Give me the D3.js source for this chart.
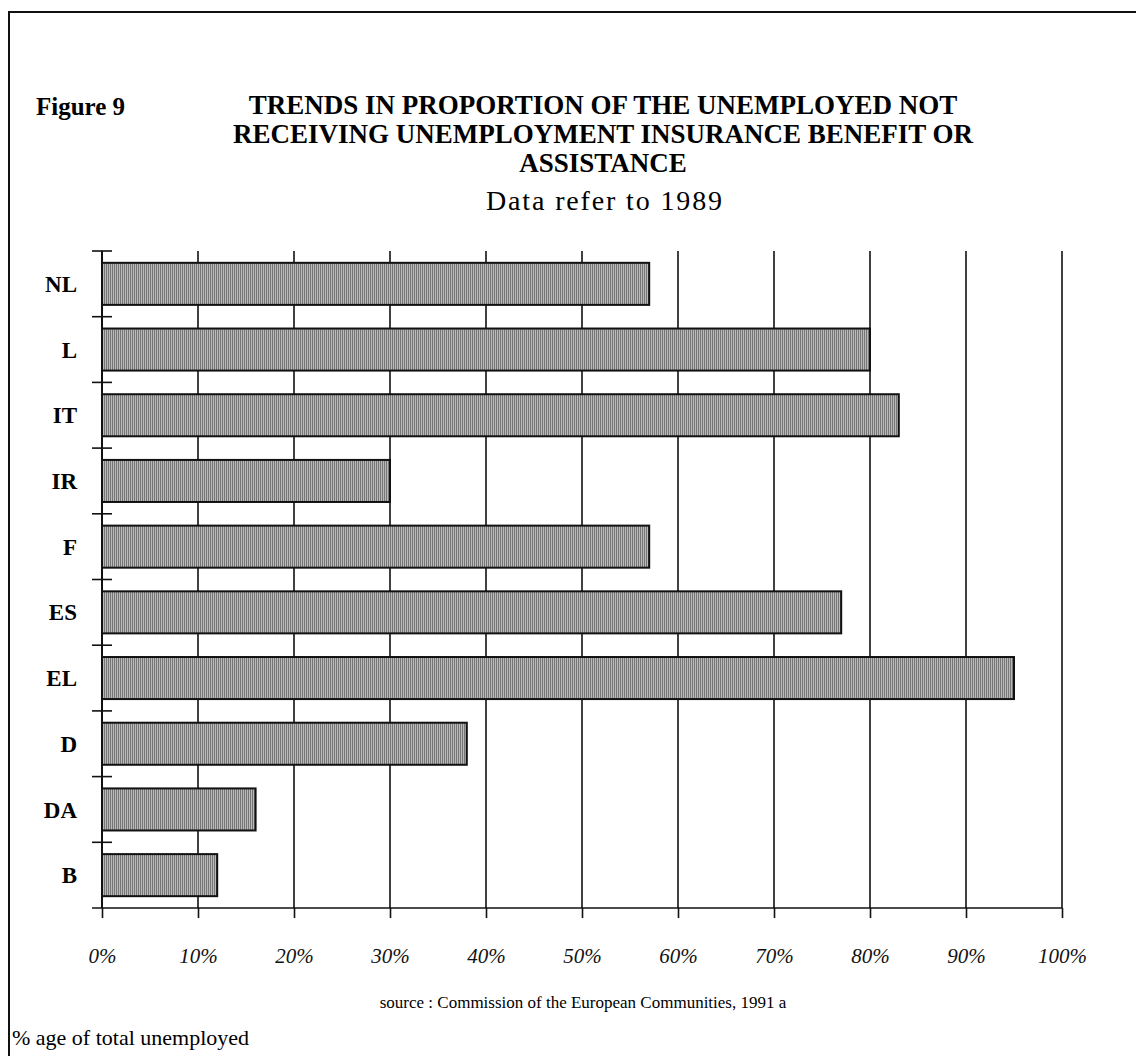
<!DOCTYPE html>
<html>
<head>
<meta charset="utf-8">
<title>Figure 9</title>
<script src="https://d3js.org/d3.v7.min.js"></script>
<style>
  body { margin: 0; background: #fff; }
  svg { display: block; font-family: "Liberation Serif", "Times New Roman", serif; }
</style>
</head>
<body>
<div class="chart1"></div>
<script>
// Data (data refer to 1989)
const countries = ['NL', 'L', 'IT', 'IR', 'F', 'ES', 'EL', 'D', 'DA', 'B'];
const shareNotReceiving = [57, 80, 83, 30, 57, 77, 95, 38, 16, 12];
const xTicks = [0, 10, 20, 30, 40, 50, 60, 70, 80, 90, 100];

const titleLines = [
    'TRENDS IN PROPORTION OF THE UNEMPLOYED NOT',
    'RECEIVING UNEMPLOYMENT INSURANCE BENEFIT OR',
    'ASSISTANCE'
];

function createChart(chartClass) {
    const width = 1136;
    const height = 1056;
    const margin = { top: 251, right: 74, bottom: 148, left: 102 };

    const data = countries.map((c, i) => ({ country: c, value: shareNotReceiving[i] }));

    const svg = d3.select(chartClass)
        .append('svg')
        .attr('width', width)
        .attr('height', height);

    // hatched grey fill like the printed bars
    const pat = svg.append('defs').append('pattern')
        .attr('id', 'barFill')
        .attr('patternUnits', 'userSpaceOnUse')
        .attr('width', 2)
        .attr('height', 2);
    pat.append('rect').attr('width', 2).attr('height', 2).attr('fill', '#bababa');
    pat.append('rect').attr('width', 1).attr('height', 2).attr('fill', '#767676');

    // page frame (top and left edges)
    svg.append('path')
        .attr('d', `M9,1056 V12 H${width}`)
        .attr('fill', 'none')
        .attr('stroke', '#111')
        .attr('stroke-width', 2);

    // titles
    svg.append('text')
        .attr('x', 36)
        .attr('y', 115)
        .attr('font-size', 25)
        .attr('font-weight', 'bold')
        .text('Figure 9');

    svg.selectAll('.title')
        .data(titleLines)
        .enter().append('text')
        .attr('class', 'title')
        .attr('x', 603)
        .attr('y', (d, i) => 114 + i * 29)
        .attr('text-anchor', 'middle')
        .attr('font-size', 27)
        .attr('font-weight', 'bold')
        .text(d => d);

    svg.append('text')
        .attr('x', 604)
        .attr('y', 210)
        .attr('text-anchor', 'middle')
        .attr('font-size', 28)
        .attr('textLength', 236)
        .attr('lengthAdjust', 'spacing')
        .text('Data refer to 1989');

    const innerW = width - margin.left - margin.right;
    const innerH = height - margin.top - margin.bottom;

    const g = svg.append('g')
        .attr('transform', 'translate(' + margin.left + ',' + margin.top + ')');

    const x = d3.scaleLinear()
        .domain([0, 100])
        .range([0, innerW]);

    const y = d3.scaleBand()
        .domain(countries)
        .range([0, innerH])
        .paddingInner(0.36)
        .paddingOuter(0.18);

    const step = innerH / countries.length;

    // vertical gridlines
    g.selectAll('.grid')
        .data(xTicks.slice(1))
        .enter().append('line')
        .attr('class', 'grid')
        .attr('x1', d => x(d))
        .attr('x2', d => x(d))
        .attr('y1', 0)
        .attr('y2', innerH)
        .attr('stroke', '#111')
        .attr('stroke-width', 1.6);

    // bars
    g.selectAll('.bar')
        .data(data)
        .enter().append('rect')
        .attr('class', 'bar')
        .attr('x', x(0))
        .attr('y', d => y(d.country))
        .attr('width', d => x(d.value))
        .attr('height', y.bandwidth())
        .attr('fill', 'url(#barFill)')
        .attr('stroke', '#111')
        .attr('stroke-width', 2);

    // x axis
    const xAxis = d3.axisBottom(x)
        .tickValues(xTicks)
        .tickSize(10)
        .tickFormat(d => d + '%');

    const xg = g.append('g')
        .attr('class', 'x-axis')
        .attr('transform', 'translate(0,' + innerH + ')')
        .call(xAxis);
    xg.select('.domain').remove();
    xg.selectAll('.tick line').attr('stroke', '#111').attr('stroke-width', 1.6);
    xg.selectAll('.tick text')
        .attr('y', 55)
        .attr('dy', 0)
        .attr('fill', '#111')
        .attr('font-size', 21)
        .attr('font-family', '"Liberation Serif", serif')
        .attr('font-style', 'italic');
    xg.append('line')
        .attr('x1', -10)
        .attr('x2', x(100))
        .attr('stroke', '#111')
        .attr('stroke-width', 1.6);

    // y axis: line, ticks at category boundaries crossing the axis
    g.append('line')
        .attr('x1', 0).attr('x2', 0)
        .attr('y1', 0).attr('y2', innerH)
        .attr('stroke', '#111')
        .attr('stroke-width', 2);

    g.selectAll('.ytick')
        .data(d3.range(countries.length))
        .enter().append('line')
        .attr('class', 'ytick')
        .attr('x1', -10)
        .attr('x2', 10)
        .attr('y1', i => i * step)
        .attr('y2', i => i * step)
        .attr('stroke', '#111')
        .attr('stroke-width', 1.6);

    g.selectAll('.ylabel')
        .data(countries)
        .enter().append('text')
        .attr('class', 'ylabel')
        .attr('x', -25)
        .attr('y', d => y(d) + y.bandwidth() / 2)
        .attr('dy', '0.35em')
        .attr('text-anchor', 'end')
        .attr('font-size', 23)
        .attr('font-weight', 'bold')
        .text(d => d);

    // footnotes
    svg.append('text')
        .attr('x', 583)
        .attr('y', 1008)
        .attr('text-anchor', 'middle')
        .attr('font-size', 17)
        .text('source : Commission of the European Communities, 1991 a');

    svg.append('text')
        .attr('x', 12)
        .attr('y', 1045)
        .attr('font-size', 22)
        .text('% age of total unemployed');
}

createChart('.chart1');
</script>
</body>
</html>
